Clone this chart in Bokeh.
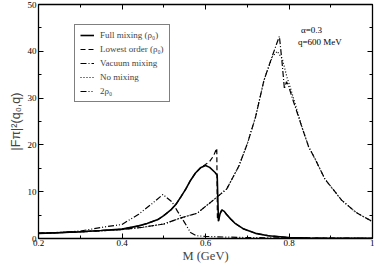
from bokeh.plotting import figure
from bokeh.models import (LinearAxis, FixedTicker, Legend, LegendItem, Label,
                          Range1d)
from bokeh.embed import file_html
from bokeh.resources import INLINE

# ---- data ----
m_full = [0.20, 0.25, 0.30, 0.35, 0.40, 0.44, 0.46, 0.486, 0.50, 0.517, 0.53, 0.541,
          0.553, 0.564, 0.576, 0.588, 0.60, 0.61, 0.623, 0.628, 0.631, 0.635, 0.639,
          0.645, 0.65, 0.66, 0.67, 0.69, 0.72, 0.75, 0.80, 0.85, 0.90, 1.00]
v_full = [1.1, 1.25, 1.45, 1.7, 2.0, 2.7, 3.2, 4.05, 4.9, 6.1, 7.4, 8.9,
          10.6, 12.4, 14.0, 15.1, 15.6, 15.2, 14.1, 13.5, 3.7, 5.3, 6.1,
          5.8, 5.2, 4.2, 3.3, 2.1, 1.1, 0.6, 0.2, 0.1, 0.05, 0.02]

m_low = [0.20, 0.25, 0.30, 0.35, 0.40, 0.44, 0.46, 0.486, 0.50, 0.517, 0.53, 0.541,
         0.553, 0.564, 0.576, 0.588, 0.60, 0.61, 0.619, 0.627, 0.6285, 0.631, 0.635,
         0.639, 0.645, 0.65, 0.66, 0.67, 0.69, 0.72, 0.75, 0.80, 0.85, 0.90, 1.00]
v_low = [1.1, 1.25, 1.45, 1.7, 2.0, 2.7, 3.2, 4.05, 4.9, 6.1, 7.4, 8.9,
         10.6, 12.4, 14.0, 15.1, 15.8, 16.5, 17.6, 19.3, 4.5, 3.7, 5.3,
         6.1, 5.8, 5.2, 4.2, 3.3, 2.1, 1.1, 0.6, 0.2, 0.1, 0.05, 0.02]

m_vac = [0.20, 0.30, 0.40, 0.45, 0.50, 0.541, 0.58, 0.62, 0.651, 0.68, 0.70, 0.72,
         0.74, 0.76, 0.77, 0.777, 0.783, 0.789, 0.794, 0.80, 0.808, 0.831, 0.847,
         0.863, 0.886, 0.926, 0.96, 1.00]
v_vac = [1.1, 1.4, 1.9, 2.4, 3.1, 4.4, 5.4, 8.3, 10.6, 15.5, 20.2, 26.0,
         33.8, 39.0, 41.5, 43.2, 38.0, 32.0, 33.5, 32.3, 30.0, 23.8, 19.6,
         16.9, 12.7, 8.2, 5.6, 3.6]

m_nomix = [0.20, 0.30, 0.40, 0.45, 0.50, 0.541, 0.58, 0.62, 0.651, 0.68, 0.70, 0.72,
           0.74, 0.76, 0.772, 0.784, 0.795, 0.804, 0.816, 0.831, 0.847,
           0.863, 0.886, 0.926, 0.96, 1.00]
v_nomix = [1.1, 1.4, 1.9, 2.4, 3.1, 4.4, 5.4, 8.3, 10.6, 15.5, 20.2, 26.0,
           33.8, 38.8, 40.0, 38.4, 34.5, 32.0, 28.4, 23.8, 19.6,
           16.9, 12.7, 8.2, 5.6, 3.6]

m_2rho = [0.20, 0.25, 0.30, 0.36, 0.40, 0.44, 0.47, 0.498, 0.52, 0.533, 0.55,
          0.564, 0.578, 0.60, 0.65, 0.70, 0.80, 1.00]
v_2rho = [1.1, 1.3, 1.6, 2.5, 3.0, 5.2, 7.3, 9.4, 7.8, 5.8, 3.4,
          1.3, 0.6, 0.45, 0.3, 0.2, 0.1, 0.05]

x_ticks = [0.2, 0.4, 0.6, 0.8, 1.0]
x_minor = [0.3, 0.5, 0.7, 0.9]
x_labels = {0.2: "0.2", 0.4: "0.4", 0.6: "0.6", 0.8: "0.8", 1.0: "1"}
y_ticks = [0, 10, 20, 30, 40, 50]
y_minor = [5, 15, 25, 35, 45]
names = ["Full mixing (\u03c1\u2080)", "Lowest order (\u03c1\u2080)",
         "Vacuum mixing", "No mixing", "2\u03c1\u2080"]

SERIF = "Liberation Serif"

p = figure(width=374, height=265, output_backend="svg", toolbar_location=None,
           x_range=Range1d(0.2, 1.0), y_range=Range1d(0, 50),
           min_border_left=38, min_border_right=2, min_border_top=4,
           min_border_bottom=20)
p.background_fill_color = "white"
p.border_fill_color = "white"
p.outline_line_color = "black"
p.outline_line_width = 1.3
p.grid.visible = False

def style_axis(ax):
    ax.axis_line_color = None
    ax.major_tick_in = 5
    ax.major_tick_out = 0
    ax.minor_tick_in = 3
    ax.minor_tick_out = 0
    ax.major_tick_line_color = "black"
    ax.minor_tick_line_color = "black"
    ax.major_label_text_font = SERIF
    ax.major_label_text_font_size = "9px"
    ax.major_label_text_color = "black"
    ax.major_label_standoff = 1

style_axis(p.xaxis[0])
p.xaxis[0].ticker = FixedTicker(ticks=x_ticks, minor_ticks=x_minor)
p.xaxis[0].major_label_overrides = x_labels
p.xaxis[0].axis_label = "M (GeV)"
p.xaxis[0].axis_label_text_font = SERIF
p.xaxis[0].axis_label_text_font_style = "normal"
p.xaxis[0].axis_label_text_font_size = "12.5px"
p.xaxis[0].axis_label_standoff = 0

style_axis(p.yaxis[0])
p.yaxis[0].major_label_standoff = 2
p.yaxis[0].ticker = FixedTicker(ticks=y_ticks, minor_ticks=y_minor)
p.yaxis[0].axis_label = "|F\u03c0|\u00b2(q\u2080,q)"
p.yaxis[0].axis_label_text_font = "Liberation Sans"
p.yaxis[0].axis_label_text_font_style = "normal"
p.yaxis[0].axis_label_text_font_size = "12.5px"
p.yaxis[0].axis_label_standoff = 2

# mirrored ticks (no labels): only minor ticks are used, so no texts are drawn
def tick_only_axis(minor_positions, length):
    ax = LinearAxis(ticker=FixedTicker(ticks=[], minor_ticks=minor_positions))
    ax.axis_line_color = None
    ax.major_tick_in = 0
    ax.major_tick_out = 0
    ax.minor_tick_in = length
    ax.minor_tick_out = 0
    ax.minor_tick_line_color = "black"
    ax.major_label_standoff = 0
    return ax

p.add_layout(tick_only_axis(x_ticks, 5), "above")
p.add_layout(tick_only_axis(x_minor, 3), "above")
p.add_layout(tick_only_axis(y_ticks, 5), "right")
p.add_layout(tick_only_axis(y_minor, 3), "right")

r1 = p.line(m_full, v_full, line_color="black", line_width=1.6)
r2 = p.line(m_low, v_low, line_color="black", line_width=1.2, line_dash="5 3")
r3 = p.line(m_vac, v_vac, line_color="black", line_width=1.2, line_dash="6 2 1 2")
r4 = p.line(m_nomix, v_nomix, line_color="black", line_width=1.2, line_dash="1 2")
r5 = p.line(m_2rho, v_2rho, line_color="black", line_width=1.2, line_dash="6 2 1 2 1 2")

legend = Legend(items=[LegendItem(label=n, renderers=[r]) for n, r in
                       zip(names, [r1, r2, r3, r4, r5])],
                location=(36, 136))
legend.label_text_font = SERIF
legend.label_text_font_size = "9px"
legend.label_height = 10
legend.glyph_height = 10
legend.glyph_width = 14
legend.spacing = 4
legend.padding = 5
legend.margin = 0
legend.label_standoff = 6
legend.border_line_color = "black"
legend.border_line_width = 1
legend.background_fill_color = "white"
legend.background_fill_alpha = 1
p.add_layout(legend, "center")

p.add_layout(Label(x=0.854, y=43.5, text="\u03b1=0.3", text_font=SERIF,
                   text_align="center", text_font_size="9px", text_color="black"))
p.add_layout(Label(x=0.874, y=41.0, text="q=600 MeV", text_font=SERIF,
                   text_align="center", text_font_size="9px", text_color="black"))

open("out.html", "w").write(file_html(p, INLINE))
